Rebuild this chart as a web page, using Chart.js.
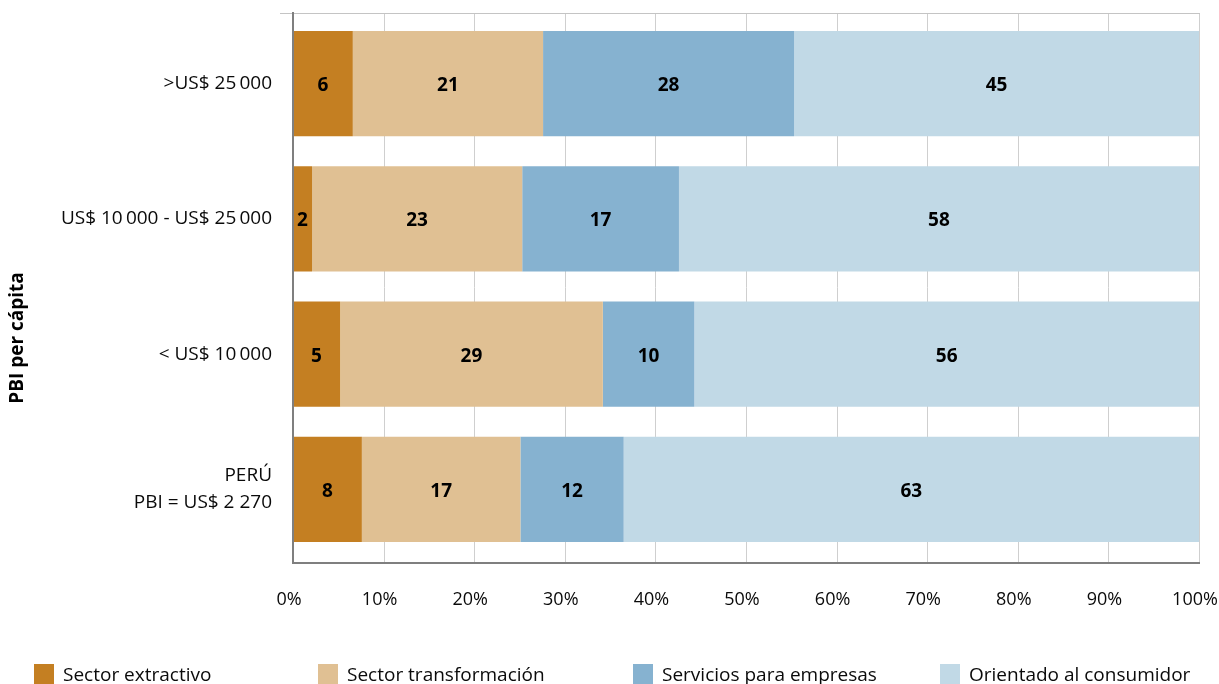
<!DOCTYPE html>
<html>
<head>
<meta charset="utf-8">
<script src="https://cdn.jsdelivr.net/npm/chart.js@4"></script>
<style>
  html, body { margin: 0; padding: 0; background: #fff; }
  #wrap { position: relative; width: 1219px; height: 684px; }
</style>
</head>
<body>
<div id="wrap"><canvas id="c" width="1219" height="684"></canvas></div>
<script>
// ---- data ----
const categories = [
  '>US$ 25\u2009000',
  'US$ 10\u2009000 - US$ 25\u2009000',
  '< US$ 10\u2009000',
  ['PERÚ', 'PBI = US$ 2 270']
];
const seriesNames = ['Sector extractivo', 'Sector transformación', 'Servicios para empresas', 'Orientado al consumidor'];
const extractivo     = [6.6, 2.1, 5.2, 7.6];
const transformacion = [21.0, 23.2, 29.0, 17.5];
const servicios      = [27.7, 17.3, 10.1, 11.4];
const consumidor     = [44.7, 57.4, 55.7, 63.5];
const labelsExtractivo     = ['6', '2', '5', '8'];
const labelsTransformacion = ['21', '23', '29', '17'];
const labelsServicios      = ['28', '17', '10', '12'];
const labelsConsumidor     = ['45', '58', '56', '63'];
const xTicks = ['0%', '10%', '20%', '30%', '40%', '50%', '60%', '70%', '80%', '90%', '100%'];
const yTitle = 'PBI per cápita';

const colors = ['#C47F22', '#E0C093', '#86B2D0', '#C1D9E6'];
const FONT = '"Open Sans", "Noto Sans", sans-serif';
const TEXT = '#0a0a0a';

const seriesValues = [extractivo, transformacion, servicios, consumidor];
const seriesLabels = [labelsExtractivo, labelsTransformacion, labelsServicios, labelsConsumidor];

const datasets = seriesNames.map((n, i) => ({
  label: n,
  data: seriesValues[i],
  valueLabels: seriesLabels[i],
  backgroundColor: colors[i],
  borderWidth: 0,
  barPercentage: 0.78,
  categoryPercentage: 1.0
}));

const FRAME_TOP_EXT = 3, FRAME_BOT_EXT = 5;

const framePlugin = {
  id: 'frame',
  beforeDatasetsDraw(chart) {
    const { ctx, chartArea: a, scales: { x } } = chart;
    const top = a.top - FRAME_TOP_EXT, bot = a.bottom + FRAME_BOT_EXT;
    ctx.save();
    ctx.strokeStyle = '#cfcfcf';
    ctx.lineWidth = 1;
    for (let v = 10; v <= 100; v += 10) {
      const px = Math.round(x.getPixelForValue(v)) + 0.5;
      ctx.beginPath(); ctx.moveTo(px, top); ctx.lineTo(px, bot); ctx.stroke();
    }
    ctx.strokeStyle = '#c4c4c4';
    ctx.beginPath(); ctx.moveTo(a.left - 13, top + 0.5); ctx.lineTo(x.getPixelForValue(100) + 1, top + 0.5); ctx.stroke();
    ctx.restore();
  },
  afterDatasetsDraw(chart) {
    const { ctx, chartArea: a, scales: { x } } = chart;
    const top = a.top - FRAME_TOP_EXT, bot = a.bottom + FRAME_BOT_EXT;
    ctx.save();
    ctx.strokeStyle = '#7f7f7f';
    ctx.lineWidth = 2;
    const x0 = x.getPixelForValue(0);
    ctx.beginPath(); ctx.moveTo(x0, top - 1); ctx.lineTo(x0, bot + 1); ctx.lineTo(x.getPixelForValue(100) + 1, bot + 1); ctx.stroke();
    ctx.fillStyle = '#000';
    ctx.font = 'bold 19px ' + FONT;
    ctx.textAlign = 'center';
    ctx.textBaseline = 'middle';
    chart.data.datasets.forEach((ds, di) => {
      const meta = chart.getDatasetMeta(di);
      meta.data.forEach((bar, i) => {
        const p = bar.getProps(['x', 'y', 'base'], true);
        ctx.fillText(ds.valueLabels[i], (p.x + p.base) / 2, p.y + 2);
      });
    });
    ctx.restore();
  },
  afterDraw(chart) {
    const { ctx } = chart;
    ctx.save();
    ctx.translate(18, 338);
    ctx.rotate(-Math.PI / 2);
    ctx.font = 'bold 19px ' + FONT;
    ctx.fillStyle = '#000';
    ctx.textAlign = 'center';
    ctx.textBaseline = 'middle';
    ctx.fillText(yTitle, 0, 0);
    ctx.restore();
    ctx.save();
    const xs = [34, 318, 633, 940];
    ctx.font = '19px ' + FONT;
    ctx.textAlign = 'left';
    ctx.textBaseline = 'middle';
    chart.data.datasets.forEach((ds, i) => {
      ctx.fillStyle = ds.backgroundColor;
      ctx.fillRect(xs[i], 664, 20, 20);
      ctx.fillStyle = TEXT;
      ctx.fillText(ds.label, xs[i] + 29, 676);
    });
    ctx.restore();
  }
};

new Chart(document.getElementById('c'), {
  type: 'bar',
  data: { labels: categories, datasets },
  options: {
    indexAxis: 'y',
    responsive: false,
    animation: false,
    layout: { padding: { left: 0, right: 20, top: 16, bottom: 67 } },
    plugins: { legend: { display: false }, tooltip: { enabled: false } },
    scales: {
      x: {
        stacked: true, min: 0, max: 100,
        grid: { display: false },
        border: { display: false },
        ticks: {
          stepSize: 10, padding: 24, color: TEXT, maxRotation: 0, autoSkip: false,
          font: { family: FONT, size: 18 },
          labelOffset: -4,
          callback: (v, i) => xTicks[i]
        },
        afterFit(s) { s.height = 60; s.paddingLeft = 0; s.paddingRight = 0; }
      },
      y: {
        stacked: true,
        grid: { display: false },
        border: { display: false },
        ticks: {
          padding: 13, color: TEXT, autoSkip: false,
          font: { family: FONT, size: 19, lineHeight: 1.4 }
        },
        afterFit(s) { s.width = 293; s.paddingTop = 0; s.paddingBottom = 0; }
      }
    }
  },
  plugins: [framePlugin]
});
</script>
</body>
</html>
